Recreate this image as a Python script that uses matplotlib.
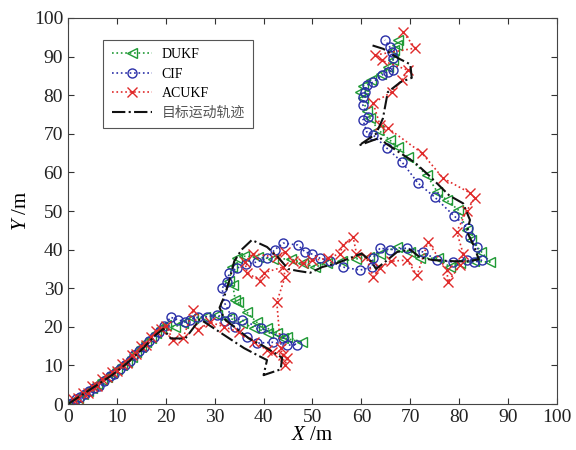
import matplotlib
matplotlib.use("Agg")
import matplotlib.pyplot as plt
import numpy as np

plt.rcParams['font.family'] = ['Liberation Serif', 'Noto Sans CJK SC']
plt.rcParams['mathtext.fontset'] = 'custom'
plt.rcParams['mathtext.rm'] = 'Liberation Serif'
plt.rcParams['mathtext.it'] = 'Liberation Serif:italic'

# true target track (x, y) in m
truth_pts = [(0, 0), (3, 2.5), (6, 5), (9, 7.5), (12, 10.5), (15, 14), (18, 18),
             (19.5, 19.5), (21, 17), (24, 17), (27, 22), (30, 19.5), (33, 17),
             (36, 14.5), (39, 12.5), (40.7, 11.4), (40, 7.5), (43.5, 9), (43.8, 12),
             (40, 15), (37, 17), (34, 20), (32, 22), (31, 25), (32, 28), (33, 32),
             (34, 37), (35.5, 40), (37.6, 42.5), (40.7, 40.7), (43, 38), (45, 35),
             (47, 34.5), (49.5, 34), (52, 35.5), (55, 36.5), (58, 38), (60, 39),
             (62, 37), (63, 35), (65, 37), (67.3, 39.4), (70, 40), (72, 38),
             (74.6, 37.3), (79, 37), (82, 37), (84, 37.5), (83, 41), (81.6, 44.6),
             (82.2, 47.7), (80.8, 52), (78, 54), (74, 59), (71, 62.5), (68, 65),
             (65, 67.5), (63.8, 69), (59.5, 67), (63, 70), (64.4, 74), (65.4, 80.8),
             (68, 83.4), (70.3, 84.5), (70, 88), (67.5, 89.6), (64.5, 92), (62, 93)]

# DUKF estimate
dukf_pts = [(0, 0), (1, 0.9), (2, 1.7), (3, 2.6), (4, 3.4), (5, 4.2), (6, 5.3), (7, 6.2),
            (8, 7.1), (9, 8.1), (10, 9), (11, 10.1), (12, 11), (13, 12.3), (14, 13.5),
            (15, 14.8), (16, 16), (17, 17.2), (18, 18.4), (19, 19.6), (20, 20.4),
            (21.9, 20), (23.5, 21), (25.5, 22.2), (28, 22.6), (30.5, 23), (33, 22.3),
            (35.5, 21), (38, 19.8), (41, 18.5), (44, 17.2), (47.9, 16), (44.8, 17.4),
            (42.7, 18.4), (40.7, 19.7), (38.6, 21.2), (36.6, 23.8), (34.8, 26.4),
            (34.2, 27), (33.7, 30.8), (33, 32), (33.5, 35.5), (34.5, 37.8), (36, 38.3),
            (38.9, 38), (42, 37.6), (45.6, 37.6), (48, 36.5), (50.5, 35.5), (53, 36.5),
            (56, 37), (59, 37.6), (61.5, 38.2), (63.8, 39), (67.3, 40.7), (70, 39.5),
            (72, 37.8), (75.7, 37.8), (78.1, 35.5), (80.2, 36.5), (83, 37), (86.3, 36.8),
            (84.5, 39.5), (82.5, 42.5), (81.6, 45), (79.8, 50.3), (77.5, 52.8),
            (75.5, 55), (73.4, 59.3), (69.5, 64), (67.5, 66.5), (65.8, 68.4), (63.5, 71),
            (61.8, 74), (61.1, 75.8), (60.3, 79.3), (59.7, 80.8), (60.3, 82.3), (62, 84),
            (64, 85.5), (65.5, 87.2), (66.5, 89.2), (66.7, 91.7), (67.3, 93), (67.5, 94.3)]

# CIF estimate
cif_pts = [(0, 0), (0.8, 0.4), (1.6, 1.2), (2.5, 1.9), (3.4, 2.6), (4.3, 3.3), (5.3, 4.1),
           (6.4, 4.7), (7.4, 6.1), (8.5, 7.2), (9.5, 7.9), (10.6, 9.1), (11.6, 10.2),
           (12.6, 11.1), (13.6, 12.6), (14.6, 13.8), (15.6, 14.9), (16.6, 16.4),
           (17.6, 17.4), (18.6, 18.6), (19.6, 20.2), (21, 22.5), (22.5, 21.8), (24, 21.3),
           (25, 21.8), (26.5, 22.5), (28.5, 22.6), (30.4, 23), (32.2, 21.6), (34.2, 20),
           (36.6, 17.4), (38.7, 15.8), (41.9, 16), (44.8, 15.3), (46.8, 15.3), (44, 17.2),
           (39.5, 19.6), (35.5, 21.8), (33.5, 22.5), (32.1, 26), (31.5, 30), (32.5, 31.6),
           (33, 34), (34.5, 35.2), (36.5, 36.2), (38.6, 36.8), (40.7, 37.8), (42.3, 40),
           (44, 41.7), (47, 41.2), (48.5, 39.4), (50, 38.8), (51.5, 37.8), (53.6, 37),
           (56.2, 35.5), (59.7, 34.7), (62.2, 35.5), (62.4, 37.8), (63.8, 40.4),
           (65.8, 40), (69.3, 40.4), (72.6, 39.4), (75.5, 37.3), (78.7, 36.8),
           (81.6, 37.3), (83, 36.8), (84.7, 37.3), (83.6, 40.7), (82.2, 43.3),
           (81.8, 45.6), (78.9, 48.8), (75, 53.6), (71.6, 57.2), (68.3, 62.7),
           (65.2, 66.3), (62.4, 69.7), (61.1, 70.5), (60.3, 73.6), (61.3, 74.4),
           (60.3, 77.5), (60.3, 79.5), (60.7, 80.8), (61.1, 82.6), (62.4, 83.4),
           (64.2, 85.2), (65.4, 86), (66.5, 86.5), (66.5, 89.6), (66.2, 91.2),
           (65.8, 92.5), (64.8, 94.3)]

# ACUKF estimate
acukf_pts = [(0, 0), (1, 1.3), (2, 1.5), (3, 2.9), (4, 3), (5, 4.6), (6, 4.8), (7, 6.6),
             (8, 6.9), (9, 8.4), (10, 8.7), (11, 10.3), (12, 10.7), (13, 12.6), (14, 12.9),
             (15, 15.1), (16, 15.4), (17, 17.4), (18, 18.9), (19, 19.4), (20, 20.3),
             (21.5, 16.6), (23.5, 17), (25.6, 24.4), (26.6, 19.2), (29, 21.2), (32, 20),
             (35, 18.6), (38, 16.2), (40.7, 14), (41.7, 13.5), (44, 12.7), (44.8, 12),
             (44.4, 10), (43.5, 14.5), (42.7, 26.4), (44.4, 33), (44, 35.5), (40, 34),
             (39.3, 32), (36.6, 34), (36.2, 36.8), (37.8, 39), (42.7, 38), (44.4, 39.4),
             (46, 37), (48, 36.5), (50, 37.2), (53.2, 37.8), (55.6, 39), (56.2, 41.2),
             (58.3, 43.3), (59, 39), (61, 38), (62.4, 33), (63.8, 35.2), (66, 37),
             (69.3, 37.3), (71.4, 33.4), (73.6, 42), (77.5, 34.7), (77.7, 31.6),
             (80.2, 36), (80.8, 39), (79.5, 44.6), (81.5, 50), (83.2, 53.4), (82.2, 54.7),
             (76.7, 58.5), (72.4, 65), (65.4, 71.5), (63.8, 72.3), (62.4, 78), (66.2, 80.8),
             (68.3, 84), (69.5, 86.5), (64.2, 89), (62.8, 90.4), (71, 92.2), (68.5, 96.4)]

ticks = [0, 10, 20, 30, 40, 50, 60, 70, 80, 90, 100]

truth = np.array(truth_pts)
dukf = np.array(dukf_pts)
cif = np.array(cif_pts)
acukf = np.array(acukf_pts)

green = '#1f9a35'
blue = '#2a2fa8'
red = '#e02a2a'

fig = plt.figure(figsize=(5.76, 4.5), dpi=100)
ax = fig.add_axes([0.118, 0.102, 0.849, 0.858])

ax.plot(dukf[:, 0], dukf[:, 1], ':', color=green, lw=1.2, marker='<', ms=7,
        mfc='none', mec=green, mew=1.0, label='DUKF')
ax.plot(cif[:, 0], cif[:, 1], ':', color=blue, lw=1.2, marker='o', ms=6.5,
        mfc='none', mec=blue, mew=1.0, label='CIF')
ax.plot(acukf[:, 0], acukf[:, 1], ':', color=red, lw=1.2, marker='x', ms=6.5,
        mec=red, mew=1.0, label='ACUKF')
ax.plot(truth[:, 0], truth[:, 1], '-.', color='#111111', lw=1.5, label='目标运动轨迹')

ax.set_xlim(0, 100)
ax.set_ylim(0, 100)
ax.set_xticks(ticks)
ax.set_yticks(ticks)
ax.tick_params(direction='in', top=True, right=True, labelsize=14, length=4,
               colors='#333333', labelcolor='#222222')
for s in ax.spines.values():
    s.set_color('#444444')

ax.set_xlabel(r'$\mathit{X}$ /m', fontsize=15, labelpad=0)
ax.set_ylabel(r'$\mathit{Y}$ /m', fontsize=15, labelpad=2)

leg = ax.legend(loc='upper left', bbox_to_anchor=(0.072, 0.943), borderaxespad=0,
                fancybox=False, edgecolor='#555555', framealpha=1, fontsize=10,
                handlelength=2.9, labelspacing=0.45, handletextpad=0.7,
                borderpad=0.6)
leg.get_frame().set_linewidth(0.8)
leg.get_texts()[3].set_color('#555555')

fig.savefig('out.png', dpi=100)
